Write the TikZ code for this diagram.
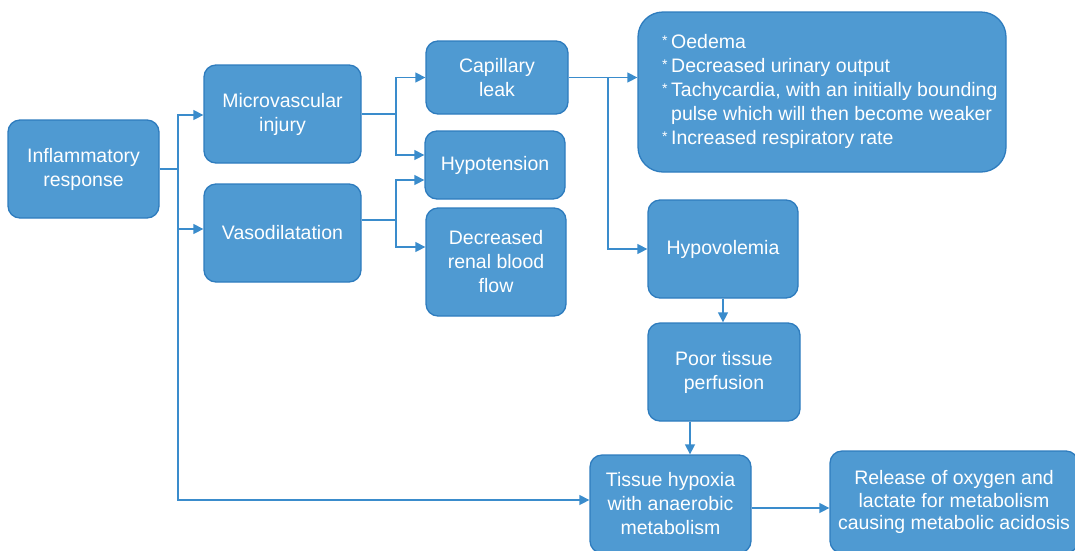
\documentclass[tikz,border=0pt]{standalone}
\usepackage{fontspec}
\setmainfont{Liberation Sans}
\usetikzlibrary{arrows.meta,calc}
\definecolor{boxfill}{RGB}{79,154,210}
\definecolor{boxline}{RGB}{46,124,190}
\definecolor{conn}{RGB}{58,140,204}
\newcommand\bulx{\makebox[9pt][l]{\raisebox{2.5pt}{\fontsize{14}{14}\selectfont *}}}
\tikzset{
  box/.style={draw=boxline, line width=1.3pt, fill=boxfill, rounded corners=12pt,
    text=white, align=center, font=\fontsize{19.5}{24}\selectfont, inner sep=0pt},
  ln/.style={draw=conn, line width=1.4pt},
  arr/.style={ln, -{Triangle[length=10pt,width=10pt]}}
}
\begin{document}
\begin{tikzpicture}[x=1pt,y=-1pt]
\useasboundingbox (0,0) rectangle (1075,550);
\node[box, minimum width=151, minimum height=98] (infl) at (83.5,169) {Inflammatory\\response};
\node[box, minimum width=157, minimum height=98] (micro) at (282.5,114) {Microvascular\\injury};
\node[box, minimum width=157, minimum height=98] (vaso) at (282.5,233) {Vasodilatation};
\node[box, minimum width=142, minimum height=73] (cap) at (497,77.5) {Capillary\\leak};
\node[box, minimum width=140, minimum height=68] (hypo) at (495,165) {Hypotension};
\node[box, minimum width=140, minimum height=108] (renal) at (496,262) {Decreased\\renal blood\\flow};
\node[box, minimum width=368, minimum height=160, rounded corners=25pt] (big) at (822,92) {};
\node[text=white, align=left, anchor=west, inner sep=0pt, font=\fontsize{19.5}{24}\selectfont] (bigtxt) at (662,91)
  {\bulx Oedema\\ \bulx Decreased urinary output\\ \bulx Tachycardia, with an initially bounding\\ \hspace*{9pt}pulse which will then become weaker\\ \bulx Increased respiratory rate};
\node[box, minimum width=150, minimum height=98] (hypov) at (723,249) {Hypovolemia};
\node[box, minimum width=152, minimum height=98] (poor) at (724,372) {Poor tissue\\perfusion};
\node[box, minimum width=161, minimum height=98] (hyp) at (670.5,504) {Tissue hypoxia\\with anaerobic\\metabolism};
\node[box, minimum width=248, minimum height=102, font=\fontsize{19.5}{22.5}\selectfont] (rel) at (954,502) {Release of oxygen and\\lactate for metabolism\\causing metabolic acidosis};
% connectors
\coordinate (j1) at (178,169);
\draw[ln] (infl.east) -- (j1);
\draw[arr] (j1) |- ([yshift=-1pt]micro.west);
\draw[arr] (j1) |- ([yshift=4pt]vaso.west);
\draw[arr] (j1) |- ([yshift=4pt]hyp.west);
\coordinate (j2) at (396,114);
\draw[ln] (micro.east) -- (j2);
\draw[arr] (j2) |- (cap.west);
\draw[arr] (j2) |- ([yshift=10pt]hypo.west);
\coordinate (j3) at (396,220);
\draw[ln] (vaso.east |- j3) -- (j3);
\draw[arr] (j3) |- ([yshift=-15pt]hypo.west);
\draw[arr] (j3) |- ([yshift=15pt]renal.west);
\coordinate (j4) at (608,77.5);
\draw[arr] (cap.east) -- (cap.east -| big.west);
\draw[arr] (j4) |- (hypov.west);
\draw[arr] (hypov.south) -- (hypov.south |- poor.north);
\draw[arr] ([xshift=-34pt]poor.south) -- ([xshift=-34pt]poor.south |- hyp.north);
\draw[arr] ([yshift=-4pt]hyp.east) -- ([yshift=-4pt]hyp.east -| rel.west);
\end{tikzpicture}
\end{document}
